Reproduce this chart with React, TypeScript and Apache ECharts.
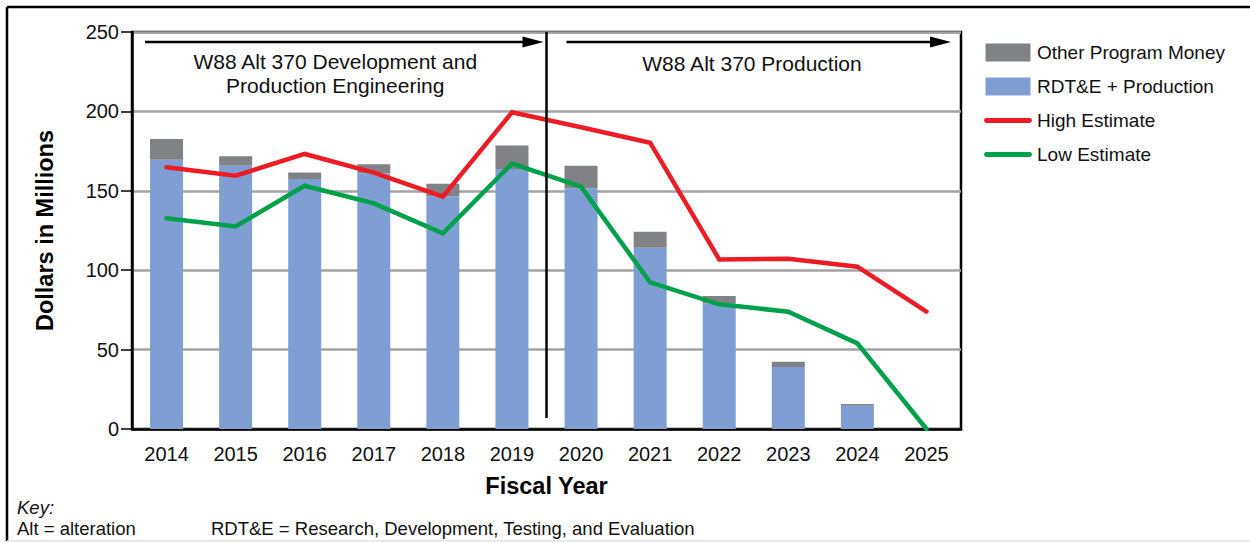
import React, { useEffect, useRef } from "react";
import * as echarts from "echarts";

const years = ["2014", "2015", "2016", "2017", "2018", "2019", "2020", "2021", "2022", "2023", "2024", "2025"];
const rdteProduction = [169.5, 165.8, 157.4, 161.0, 146.5, 163.7, 151.6, 114.2, 79.0, 39.0, 14.7, null];
const otherProgram = [13.1, 5.9, 4.2, 5.7, 8.0, 14.9, 14.2, 10.0, 4.8, 3.4, 1.0, null];
const highEstimate = [164.8, 159.5, 173.2, 161.4, 146.3, 199.4, 190.0, 180.3, 106.8, 107.2, 102.2, 73.9];
const lowEstimate = [132.7, 127.6, 153.2, 142.1, 123.2, 167.1, 152.6, 92.3, 78.5, 73.9, 53.9, 0];
const yTicks = [0, 50, 100, 150, 200, 250];

const FONT = "'Liberation Sans', Arial, Helvetica, sans-serif";
const GRID = { left: 132, right: 289, top: 32, bottom: 113 };

const RECT_ICON = "path://M1.5,0 H46.5 V18 H1.5 Z M0,0 H0.01 V0.01 H0 Z M48,18 H47.99 V17.99 H48 Z";
const LINE_ICON = "path://M2.4,6.6 H45.6 A2.4,2.4 0 0 1 45.6,11.4 H2.4 A2.4,2.4 0 0 1 2.4,6.6 Z M0,0 H0.01 V0.01 H0 Z M48,18 H47.99 V17.99 H48 Z";

export default function App() {
  const ref = useRef<HTMLDivElement>(null);
  useEffect(() => {
    if (!ref.current) return;
    const chart = echarts.init(ref.current, null, { renderer: "svg" });
    const option: any = {
      animation: false,
      backgroundColor: "#ffffff",
      textStyle: { fontFamily: FONT },
      grid: {
        ...GRID,
        show: true,
        borderColor: "#000",
        borderWidth: 2.5,
        backgroundColor: "transparent",
      },
      legend: {
        orient: "vertical",
        left: 984,
        top: 43,
        padding: 0,
        itemWidth: 48,
        itemHeight: 18,
        itemGap: 15,
        textStyle: { fontFamily: FONT, fontSize: 19, color: "#111" },
        data: [
          { name: "Other Program Money", icon: RECT_ICON },
          { name: "RDT&E + Production", icon: RECT_ICON },
          { name: "High Estimate", icon: LINE_ICON },
          { name: "Low Estimate", icon: LINE_ICON },
        ],
      },
      xAxis: {
        type: "category",
        data: years,
        boundaryGap: true,
        axisLine: { lineStyle: { color: "#000", width: 2.5 } },
        axisTick: { alignWithLabel: true, length: 8, lineStyle: { color: "#000", width: 1.5 } },
        axisLabel: { color: "#111", fontSize: 20, margin: 15, fontFamily: FONT },
        name: "Fiscal Year",
        nameLocation: "middle",
        nameGap: 45,
        nameTextStyle: { fontSize: 23.5, fontWeight: "bold", color: "#000", fontFamily: FONT },
      },
      yAxis: {
        type: "value",
        min: yTicks[0],
        max: yTicks[yTicks.length - 1],
        interval: 50,
        axisLine: { show: true, lineStyle: { color: "#000", width: 2.5 } },
        axisTick: { show: true, length: 11, lineStyle: { color: "#000", width: 1.5 } },
        axisLabel: { color: "#111", fontSize: 20, margin: 13, fontFamily: FONT },
        splitLine: { show: true, lineStyle: { color: "#a3a3a3", width: 2.5 } },
        name: "Dollars in Millions",
        nameLocation: "middle",
        nameGap: 75,
        nameTextStyle: { fontSize: 23.5, fontWeight: "bold", color: "#000", fontFamily: FONT },
      },
      series: [
        {
          name: "RDT&E + Production",
          type: "bar",
          stack: "money",
          barWidth: 33,
          data: rdteProduction,
          itemStyle: { color: "#7f9fd4" },
          z: 2,
        },
        {
          name: "Other Program Money",
          type: "bar",
          stack: "money",
          barWidth: 33,
          data: otherProgram,
          itemStyle: { color: "#808285" },
          z: 2,
        },
        {
          name: "High Estimate",
          type: "line",
          data: highEstimate,
          symbol: "none",
          lineStyle: { color: "#ed1c24", width: 4.5, cap: "round", join: "miter" },
          itemStyle: { color: "#ed1c24" },
          z: 4,
        },
        {
          name: "Low Estimate",
          type: "line",
          data: lowEstimate,
          symbol: "none",
          lineStyle: { color: "#00a14b", width: 4.5, cap: "round", join: "miter" },
          itemStyle: { color: "#00a14b" },
          z: 4,
        },
      ],
    };
    chart.setOption(option);

    const px = (v: string) => chart.convertToPixel({ xAxisIndex: 0 }, v) as number;
    const py = (v: number) => chart.convertToPixel({ yAxisIndex: 0 }, v) as number;
    const divX = (px("2019") + px("2020")) / 2;
    const plotTop = py(250);
    const divBottom = py(7);
    const arrowY = plotTop + 10;
    const plotLeft = GRID.left;
    const plotRight = 1250 - GRID.right;
    const black = "#000";

    const arrow = (x1: number, x2: number) => [
      { type: "line", shape: { x1, y1: arrowY, x2: x2 - 18, y2: arrowY }, style: { stroke: black, lineWidth: 2.5 }, z: 10 },
      {
        type: "polygon",
        shape: { points: [[x2 - 21, arrowY - 5.5], [x2, arrowY], [x2 - 21, arrowY + 5.5]] },
        style: { fill: black },
        z: 10,
      },
    ];

    const txt = (text: string, x: number, y: number, font: string, align = "center") => ({
      type: "text",
      x,
      y,
      style: { text, font, fill: "#111", align, verticalAlign: "middle" },
      z: 10,
    });

    chart.setOption({
      graphic: [
        // outer frame
        { type: "line", shape: { x1: 7, y1: 7, x2: 1250, y2: 7 }, style: { stroke: black, lineWidth: 2.5 } },
        { type: "line", shape: { x1: 7, y1: 7, x2: 7, y2: 541 }, style: { stroke: black, lineWidth: 2.5 } },
        { type: "line", shape: { x1: 7, y1: 541, x2: 1250, y2: 541 }, style: { stroke: "#e0e0e0", lineWidth: 1.5 } },
        // divider
        { type: "line", shape: { x1: divX, y1: plotTop, x2: divX, y2: divBottom }, style: { stroke: black, lineWidth: 2.5 }, z: 10 },
        ...arrow(plotLeft + 13, divX - 3),
        ...arrow(divX + 20, plotRight - 10),
        txt("W88 Alt 370 Development and", (plotLeft + divX) / 2 - 4, 61, `21px ${FONT}`),
        txt("Production Engineering", (plotLeft + divX) / 2 - 4, 85, `21px ${FONT}`),
        txt("W88 Alt 370 Production", 752, 63, `21px ${FONT}`),
        txt("Key:", 17, 507, `italic 18.5px ${FONT}`, "left"),
        txt("Alt = alteration", 17, 528, `18.5px ${FONT}`, "left"),
        txt("RDT&E = Research, Development, Testing, and Evaluation", 211, 528, `18.5px ${FONT}`, "left"),
      ],
    });

    return () => chart.dispose();
  }, []);

  return (
    <div
      ref={ref}
      style={{ position: "fixed", left: 0, top: 0, width: 1250, height: 542, background: "#fff" }}
    />
  );
}
